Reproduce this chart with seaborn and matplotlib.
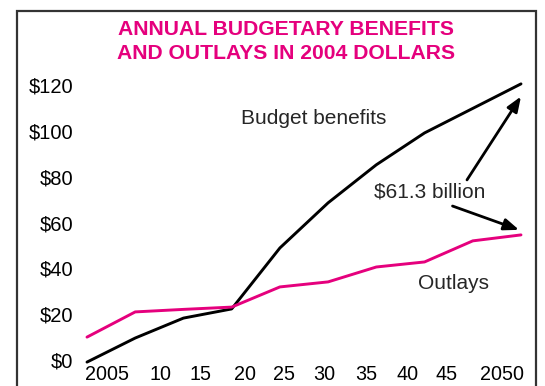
import matplotlib
matplotlib.use("Agg")
import matplotlib.pyplot as plt
import seaborn as sns
import pandas as pd
from matplotlib.patches import Rectangle

years = [2005, 2010, 2015, 2020, 2025, 2030, 2035, 2040, 2045, 2050]
benefits = [-0.9, 9.6, 18.3, 22.3, 48.9, 68.6, 85.2, 99.1, 109.8, 120.5]
outlays = [10.0, 21.0, 22.1, 23.1, 31.9, 34.1, 40.6, 42.8, 52.0, 54.6]
xtick_labels = ["2005", "10", "15", "20", "25", "30", "35", "40", "45", "2050"]
xtick_pos = [2007.07, 2012.6, 2016.82, 2021.38, 2025.43, 2029.58, 2033.93, 2038.23, 2042.27, 2048.0]
ytick_vals = [0, 20, 40, 60, 80, 100, 120]
ytick_labels = ["$0", "$20", "$40", "$60", "$80", "$100", "$120"]

MAGENTA = "#E5007D"

sns.set_style("white")
plt.rcParams["font.family"] = ["Liberation Sans", "DejaVu Sans"]

df = pd.DataFrame({
    "year": years * 2,
    "value": benefits + outlays,
    "series": ["Budget benefits"] * len(years) + ["Outlays"] * len(years),
})

fig = plt.figure(figsize=(5.45, 3.86), dpi=100)
ax = fig.add_axes([87 / 545, 0.0554, (521 - 87) / 545, 0.7362])

sns.lineplot(data=df, x="year", y="value", hue="series",
             palette={"Budget benefits": "black", "Outlays": MAGENTA},
             linewidth=2.1, legend=False, ax=ax)
for ln in ax.lines:
    ln.set_clip_on(False)

ax.set_xlim(2005, 2050)
ax.set_ylim(-2, 122)
ax.set_xticks(xtick_pos)
ax.set_xticklabels(xtick_labels)
ax.set_yticks(ytick_vals)
ax.set_yticklabels(ytick_labels)
ax.tick_params(axis="both", length=0, labelsize=14.5, colors="black")
ax.tick_params(axis="y", pad=10)
ax.tick_params(axis="x", pad=0, labelsize=14.2)
ax.set_xlabel("")
ax.set_ylabel("")
for s in ax.spines.values():
    s.set_visible(False)
ax.patch.set_alpha(0)

ax.text(2028.5, 105.5, "Budget benefits", fontsize=15, ha="center", va="center")
ax.text(2040.5, 73.5, "$61.3 billion", fontsize=15, ha="center", va="center")
ax.text(2043.0, 33.5, "Outlays", fontsize=15, ha="center", va="center")

arrow = dict(arrowstyle="-|>,head_length=0.9,head_width=0.35", color="black",
             lw=2.0, shrinkA=0, shrinkB=0)
ax.annotate("", xy=(2050, 115.0), xytext=(2044.4, 78.6), arrowprops=arrow,
            annotation_clip=False)
ax.annotate("", xy=(2049.8, 56.8), xytext=(2042.9, 67.2), arrowprops=arrow,
            annotation_clip=False)

fig.text(286 / 545, 0.8925, "ANNUAL BUDGETARY BENEFITS\nAND OUTLAYS IN 2004 DOLLARS",
         color=MAGENTA, fontsize=15.2, fontweight="bold", ha="center", va="center",
         linespacing=1.35)

fig.patches.append(Rectangle((17 / 545, -0.05), (536 - 17) / 545, (386 - 11) / 386 + 0.05,
                             transform=fig.transFigure, fill=False,
                             edgecolor="#333333", linewidth=1.6, zorder=10))

fig.savefig("out.png", dpi=100)
